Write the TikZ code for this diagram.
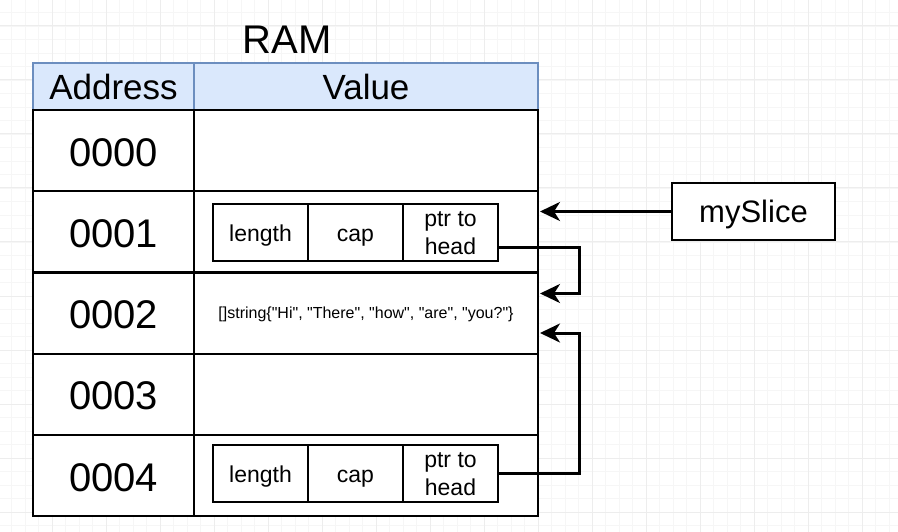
\documentclass[tikz,border=0pt]{standalone}
\usepackage{fontspec}
\setmainfont{Liberation Sans}
\newfontfamily\plainfont{Liberation Sans}[Ligatures=TeXOff]
\usetikzlibrary{arrows.meta}
\definecolor{hdrfill}{HTML}{DAE8FC}
\definecolor{hdrline}{HTML}{6C8EBF}
\definecolor{gridminor}{HTML}{F6F6F6}
\definecolor{gridmajor}{HTML}{EDEDED}
\tikzset{
  cell/.style={draw=black, line width=2.2pt, fill=white, inner sep=0pt, anchor=center},
  hdr/.style={draw=hdrline, line width=2pt, fill=hdrfill, inner sep=0pt, minimum height=47pt, font=\fontsize{35}{40}\selectfont},
  addr/.style={cell, minimum width=161pt, minimum height=81.2pt, font=\fontsize{40}{44}\selectfont},
  val/.style={cell, minimum width=344pt, minimum height=81.2pt},
  field/.style={draw=black, line width=2pt, fill=white, inner sep=0pt, minimum width=95pt, minimum height=57pt},
  fieldtext/.style={inner sep=0pt, align=center, font=\fontsize{23}{28}\selectfont},
  onetext/.style={inner sep=0pt, font=\fontsize{23}{28}\selectfont, text height=17pt, text depth=5pt},
  conn/.style={line width=3pt, -{Stealth[length=20pt,width=19pt,inset=6pt]}},
}
\begin{document}
\begin{tikzpicture}[x=1pt,y=-1pt]
\useasboundingbox (0,0) rectangle (898,532);
\fill[white] (0,0) rectangle (898,532);
% background grid
\foreach \i in {0,...,67} {\draw[gridminor, line width=0.8pt] ({-2+13.5*\i},0) -- ({-2+13.5*\i},532);}
\foreach \i in {0,...,40} {\draw[gridminor, line width=0.8pt] (0,{-1+13.5*\i}) -- (898,{-1+13.5*\i});}
\foreach \i in {0,...,17} {\draw[gridmajor, line width=1pt] ({-2+54*\i},0) -- ({-2+54*\i},532);}
\foreach \i in {0,...,10} {\draw[gridmajor, line width=1pt] (0,{-28+54*\i}) -- (898,{-28+54*\i});}

% title
\node[font=\fontsize{40}{44}\selectfont] (ram) at (287,40) {RAM};

% header
\node[hdr, minimum width=161pt] (ha) at (113.5,86.5) {Address};
\node[hdr, minimum width=344pt] (hv) at (366,86.5) {Value};

% rows
\node[addr] (a0) at (113.5,150.6) {};
\node[val]  (v0) at (366,150.6) {};
\node[addr] (a1) at (113.5,231.8) {};
\node[val]  (v1) at (366,231.8) {};
\node[addr] (a2) at (113.5,313.0) {};
\node[val]  (v2) at (366,313.0) {};
\node[addr] (a3) at (113.5,394.2) {};
\node[val]  (v3) at (366,394.2) {};
\node[addr] (a4) at (113.5,475.4) {};
\node[val]  (v4) at (366,475.4) {};
\foreach \n/\t in {a0/0000, a1/0001, a2/0002, a3/0003, a4/0004}
  \node[inner sep=0pt, font=\fontsize{40}{44}\selectfont] (\n t) at ([yshift=-2pt]\n.center) {\t};
\node[inner sep=0pt, font=\plainfont\fontsize{16}{18}\selectfont] (str) at ([yshift=-1.5pt]v2.center) {[]string\{"Hi", "There", "how", "are", "you?"\}};

% slice header in row 0001
\node[field] (l1) at (260.5,232.5) {};
\node[field] (c1) at (355.5,232.5) {};
\node[field] (p1) at (450.5,232.5) {};
\node[onetext] (l1t) at ([yshift=-3pt]l1.center) {length};
\node[onetext] (c1t) at ([yshift=-3pt]c1.center) {cap};
\node[fieldtext] (p1t) at ([yshift=-1pt]p1.center) {ptr to\\head};
% slice header in row 0004
\node[field] (l2) at (260.5,473.5) {};
\node[field] (c2) at (355.5,473.5) {};
\node[field] (p2) at (450.5,473.5) {};
\node[onetext] (l2t) at ([yshift=-3pt]l2.center) {length};
\node[onetext] (c2t) at ([yshift=-3pt]c2.center) {cap};
\node[fieldtext] (p2t) at ([yshift=-1pt]p2.center) {ptr to\\head};

% variable
\node[draw=black, line width=2pt, fill=white, minimum width=163pt, minimum height=57pt, inner sep=0pt] (ms) at (753.5,211.5) {};
\node[inner sep=0pt, font=\fontsize{31}{35}\selectfont] (mst) at ([yshift=-3pt]ms.center) {mySlice};

% connectors
\coordinate (t1) at (540,211.5);
\coordinate (t2) at (540,293.5);
\coordinate (t3) at (540,333);
\coordinate (s1) at (498,248);
\draw[conn] (ms.west) -- (t1);
\draw[conn] (s1) -- (579,248) -- (579,293.5) -- (t2);
\draw[conn] (p2.east) -- (579,473.5) -- (579,333) -- (t3);
\end{tikzpicture}
\end{document}
